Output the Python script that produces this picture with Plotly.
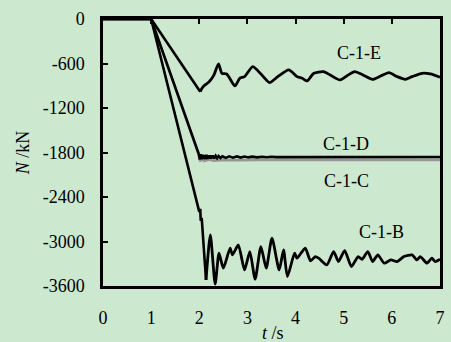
import plotly.graph_objects as go

# ---- data ----
E_t = [0, 1.0, 2.02, 2.05, 2.1, 2.2, 2.3, 2.4, 2.47, 2.57, 2.74, 2.84, 2.94, 3.11, 3.28, 3.46,
       3.63, 3.86, 4.03, 4.14, 4.24, 4.38, 4.58, 4.72, 4.92, 5.08, 5.23, 5.4, 5.6, 5.77, 5.94,
       6.11, 6.28, 6.42, 6.63, 6.8, 7.0]
E_N = [0, 0, -980, -940, -900, -850, -760, -606, -732, -741, -903, -800, -777, -642, -741, -858,
       -777, -687, -777, -800, -835, -732, -710, -755, -822, -760, -710, -755, -813, -768, -723,
       -777, -813, -777, -732, -741, -785]

D_t = [0, 1.0, 1.99, 2.01, 2.03, 2.05, 2.07, 2.09, 2.11, 2.13, 2.15, 2.17, 2.19, 2.21, 2.23,
       2.25, 2.28, 2.31, 2.34, 2.37, 2.40, 2.44, 2.48, 2.55, 2.62, 2.70, 2.78, 2.86, 2.94, 3.02,
       3.10, 3.20, 3.30, 3.40, 3.50, 3.60, 7.0]
D_N = [0, 0, -1820, -1895, -1825, -1890, -1830, -1885, -1835, -1890, -1830, -1885, -1838, -1882,
       -1840, -1880, -1842, -1878, -1845, -1876, -1848, -1874, -1850, -1872, -1852, -1870, -1853,
       -1868, -1855, -1866, -1856, -1865, -1857, -1864, -1858, -1862, -1860]

C_t = [0, 1.0, 1.99, 2.02, 2.06, 2.10, 2.2, 2.3, 2.5, 2.8, 3.2, 7.0]
C_N = [0, 0, -1830, -1920, -1880, -1915, -1895, -1910, -1900, -1905, -1900, -1900]

B_t = [0, 1.0, 2.0, 2.02, 2.03, 2.05, 2.14, 2.23, 2.33, 2.41, 2.5, 2.64, 2.69, 2.81, 2.94, 3.05,
       3.16, 3.28, 3.39, 3.51, 3.66, 3.75, 3.83, 3.98, 4.03, 4.2, 4.31, 4.41, 4.48, 4.65, 4.79,
       4.89, 5.02, 5.16, 5.3, 5.38, 5.5, 5.6, 5.71, 5.84, 5.98, 6.11, 6.25, 6.42, 6.52, 6.59,
       6.73, 6.83, 6.9, 7.0]
B_N = [0, 0, -2600, -2560, -2720, -2680, -3517, -2911, -3575, -3158, -3360, -3090, -3180, -3046,
       -3383, -3136, -3508, -3068, -3360, -2956, -3383, -3113, -3473, -3158, -3225, -3090, -3260,
       -3203, -3225, -3315, -3136, -3270, -3122, -3338, -3203, -3240, -3136, -3270, -3180, -3292,
       -3248, -3270, -3203, -3180, -3248, -3203, -3292, -3225, -3270, -3240]

# index where the straight loading ramp ends and the oscillation begins
E_split = 2
B_split = 6

labels = ["C-1-E", "C-1-D", "C-1-C", "C-1-B"]
label_t = [5.32, 5.04, 5.06, 5.79]
label_N = [-458, -1685, -2183, -2875]

x_ticks = [0, 1, 2, 3, 4, 5, 6, 7]
y_ticks = [0, -600, -1200, -1800, -2400, -3000, -3600]
y_tick_text = ["0", "-600", "-1200", "-1800", "-2400", "-3000", "-3600"]

BG = "rgb(204,232,207)"
FONT = "Liberation Serif"

fig = go.Figure()
fig.add_trace(go.Scatter(x=C_t, y=C_N, mode="lines", line=dict(color="rgb(150,150,150)", width=2.6)))
fig.add_trace(go.Scatter(x=D_t, y=D_N, mode="lines", line=dict(color="black", width=2.6)))
for t, n, s in [(E_t, E_N, E_split), (B_t, B_N, B_split)]:
    fig.add_trace(go.Scatter(x=t[:s + 1], y=n[:s + 1], mode="lines",
                             line=dict(color="black", width=2.6)))
    fig.add_trace(go.Scatter(x=t[s:], y=n[s:], mode="lines",
                             line=dict(color="black", width=2.8, shape="spline", smoothing=0.6)))
# top axis ticks (invisible carrier trace)
fig.add_trace(go.Scatter(x=[0, 7], y=[0, 0], xaxis="x2", mode="lines",
                         line=dict(width=0), hoverinfo="skip"))

for lab, t, n in zip(labels, label_t, label_N):
    fig.add_annotation(x=t, y=n, text=lab, showarrow=False, xanchor="center", yanchor="middle",
                       font=dict(family=FONT, size=18, color="black"))

fig.add_annotation(xref="paper", yref="paper", x=(22 - 103) / 342, y=(286 - 153) / 267,
                   text="<i>N</i> /kN", textangle=-90, showarrow=False,
                   xanchor="center", yanchor="middle",
                   font=dict(family=FONT, size=18, color="black"))
fig.add_annotation(xref="paper", yref="paper", x=(276 - 103) / 342, y=(286 - 333) / 267,
                   text="<i>t</i> /s", showarrow=False, xanchor="center", yanchor="middle",
                   font=dict(family=FONT, size=18, color="black"))

fig.update_layout(
    width=451, height=342,
    margin=dict(l=103, r=6, t=19, b=56),
    paper_bgcolor=BG, plot_bgcolor=BG,
    showlegend=False,
    font=dict(family=FONT, size=18, color="black"),
    xaxis=dict(range=[0, 7], tickvals=x_ticks, ticks="", showgrid=False, zeroline=False,
               showline=True, linecolor="black", linewidth=2.5, mirror=True,
               ticklabelstandoff=14, tickfont=dict(family=FONT, size=18, color="black")),
    xaxis2=dict(range=[0, 7], overlaying="x", side="top", tickvals=[1, 2, 3, 4, 5, 6],
                ticks="inside", ticklen=5, tickwidth=1.5, tickcolor="black",
                showticklabels=False, showgrid=False, zeroline=False, showline=False),
    yaxis=dict(range=[-3600, 0], tickvals=y_ticks, ticktext=y_tick_text, ticks="inside",
               ticklen=5, tickwidth=1.5,
               tickcolor="black", showgrid=False, zeroline=False, showline=True,
               linecolor="black", linewidth=2.5, mirror=True, ticklabelstandoff=12,
               tickfont=dict(family=FONT, size=18, color="black")),
)

fig.write_html("out.html")
